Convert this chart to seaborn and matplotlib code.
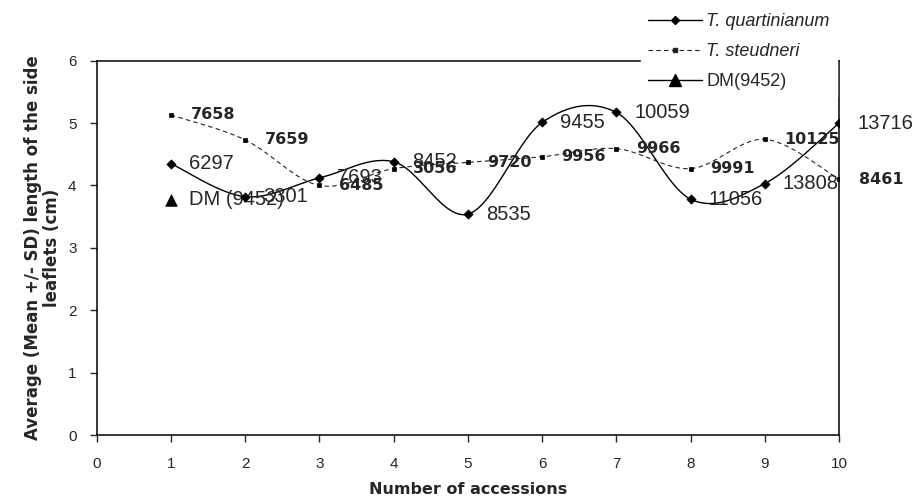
import numpy as np
import pandas as pd
import matplotlib
matplotlib.use("Agg")
import matplotlib.pyplot as plt
from matplotlib.lines import Line2D
import seaborn as sns

# Mean length of the side leaflets (cm) per accession
accessions = [1, 2, 3, 4, 5, 6, 7, 8, 9, 10]
quart_values = [4.35, 3.82, 4.12, 4.38, 3.54, 5.01, 5.17, 3.78, 4.03, 5.00]
quart_labels = ["6297", "3301", "7693", "8452", "8535", "9455", "10059", "11056", "13808", "13716"]
steud_values = [5.13, 4.73, 4.00, 4.27, 4.37, 4.46, 4.59, 4.27, 4.74, 4.10]
steud_labels = ["7658", "7659", "6485", "3056", "9720", "9956", "9966", "9991", "10125", "8461"]
dm_x = [1]
dm_values = [3.77]
dm_label = "DM (9452)"

x_ticks = list(range(0, 11))
y_ticks = list(range(0, 7))


def smooth_curve(xs, ys, steps=30):
    """Catmull-Rom style Bezier smoothing through every point."""
    p = np.column_stack([xs, ys]).astype(float)
    n = len(p)
    out = []
    for i in range(n - 1):
        p0 = p[i - 1] if i > 0 else p[i]
        p1, p2 = p[i], p[i + 1]
        p3 = p[i + 2] if i + 2 < n else p[i + 1]
        c1 = p1 + (p2 - p0) / 6.0
        c2 = p2 - (p3 - p1) / 6.0
        t = np.linspace(0, 1, steps, endpoint=(i == n - 2))[:, None]
        seg = ((1 - t) ** 3) * p1 + 3 * ((1 - t) ** 2) * t * c1 + 3 * (1 - t) * t ** 2 * c2 + t ** 3 * p2
        out.append(seg)
    curve = np.vstack(out)
    return pd.DataFrame({"x": curve[:, 0], "y": curve[:, 1]})


sns.set_style("ticks")
plt.rcParams["font.family"] = ["Liberation Sans", "DejaVu Sans"]

fig = plt.figure(figsize=(9.16, 5.04), dpi=100)
ax = fig.add_axes([0.1056, 0.1369, 0.8104, 0.7427])

quart_df = pd.DataFrame({"x": accessions, "y": quart_values})
steud_df = pd.DataFrame({"x": accessions, "y": steud_values})
dm_df = pd.DataFrame({"x": dm_x, "y": dm_values})

sns.lineplot(data=smooth_curve(accessions, quart_values), x="x", y="y", sort=False,
             estimator=None, color="black", linewidth=1.0, ax=ax)
sns.lineplot(data=smooth_curve(accessions, steud_values), x="x", y="y", sort=False,
             estimator=None, color="#222222", linewidth=0.8, dashes=False, ax=ax)
ax.lines[-1].set_dashes([4, 3])

sns.scatterplot(data=quart_df, x="x", y="y", marker="D", s=22, color="black",
                edgecolor="black", linewidth=0.5, ax=ax, zorder=4)
sns.scatterplot(data=steud_df, x="x", y="y", marker="s", s=10, color="black",
                edgecolor="black", linewidth=0.5, ax=ax, zorder=4)
sns.scatterplot(data=dm_df, x="x", y="y", marker="^", s=70, color="black",
                edgecolor="black", linewidth=0.5, ax=ax, zorder=4)

for xv, yv, lab in zip(accessions, quart_values, quart_labels):
    ax.annotate(lab, (xv, yv), xytext=(13, 0), textcoords="offset points",
                ha="left", va="center", fontsize=14.5, family="Liberation Sans",
                annotation_clip=False)
for xv, yv, lab in zip(accessions, steud_values, steud_labels):
    ax.annotate(lab, (xv, yv), xytext=(14, 0), textcoords="offset points",
                ha="left", va="center", fontsize=11.5, family="DejaVu Sans",
                fontweight="bold", annotation_clip=False)
ax.annotate(dm_label, (dm_x[0], dm_values[0]), xytext=(13, 0), textcoords="offset points",
            ha="left", va="center", fontsize=14.5, family="Liberation Sans")

ax.set_xlim(0, 10)
ax.set_ylim(0, 6)
ax.set_xticks(x_ticks)
ax.set_yticks(y_ticks)
ax.set_xticklabels([str(v) for v in x_ticks])
ax.set_yticklabels([str(v) for v in y_ticks])
ax.tick_params(axis="x", direction="out", length=5, width=1, pad=11, labelsize=11)
ax.tick_params(axis="y", direction="out", length=5, width=1, pad=9.5, labelsize=11)
for side in ["left", "bottom", "right", "top"]:
    ax.spines[side].set_visible(True)
    ax.spines[side].set_color("black")
    ax.spines[side].set_linewidth(1.1)

ax.set_xlabel("Number of accessions", family="DejaVu Sans", fontweight="bold", fontsize=11.5)
ax.set_ylabel("Average (Mean +/- SD) length of the side\nleaflets (cm)", family="DejaVu Sans",
              fontweight="bold", fontsize=12, linespacing=1.05)
ax.xaxis.set_label_coords(0.5, -0.125)
ax.yaxis.set_label_coords(-0.048, 0.5)

handles = [
    Line2D([], [], color="black", linewidth=1.0, marker="D", markersize=4),
    Line2D([], [], color="#222222", linewidth=0.8, linestyle=(0, (4, 3)), marker="s", markersize=3),
    Line2D([], [], color="black", linewidth=1.0, marker="^", markersize=9),
]
leg = ax.legend(handles, ["T. quartinianum", "T. steudneri", "DM(9452)"],
                loc="upper left", bbox_to_anchor=(641 / 916, 0.988),
                bbox_transform=fig.transFigure, frameon=True, fancybox=False,
                facecolor="white", edgecolor="white", framealpha=1.0,
                fontsize=13, handlelength=3.0, handletextpad=0.2,
                labelspacing=0.72, borderpad=0.4, borderaxespad=0)
for txt in leg.get_texts()[:2]:
    txt.set_fontstyle("italic")
leg.set_zorder(10)

fig.savefig("out.png", dpi=100)
